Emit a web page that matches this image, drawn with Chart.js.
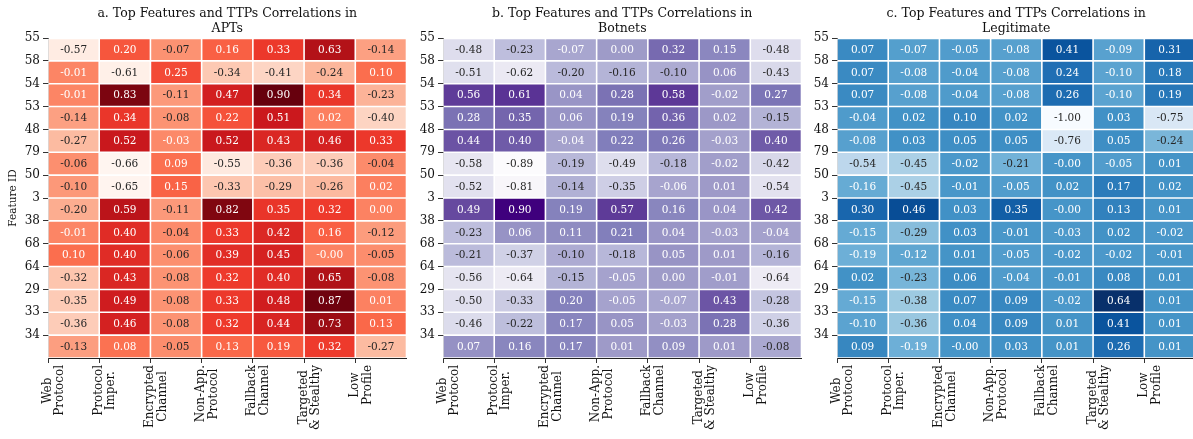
<!DOCTYPE html>
<html>
<head>
<meta charset="utf-8">
<script src="https://cdn.jsdelivr.net/npm/chart.js@4.4.0/dist/chart.umd.min.js"></script>
<style>
  html, body { margin: 0; padding: 0; background: #fff; overflow: hidden; }
  canvas { position: absolute; top: 0; }
</style>
</head>
<body>
<canvas id="chartApt" width="410" height="439" style="left:0px"></canvas>
<canvas id="chartBot" width="410" height="439" style="left:394px"></canvas>
<canvas id="chartLeg" width="410" height="439" style="left:789px"></canvas>
<script>
// rows = feature ids (top to bottom), columns = TTPs
const featureIds = ['55', '58', '54', '53', '48', '79', '50', '3', '38', '68', '64', '29', '33', '34'];
const ttpNames = [
  ['Web', 'Protocol'], ['Protocol', 'Imper.'], ['Encrypted', 'Channel'], ['Non-App.', 'Protocol'],
  ['Fallback', 'Channel'], ['Targeted', '& Stealthy'], ['Low', 'Profile']
];

const aptCorr = [
  [-0.57, 0.20, -0.07, 0.16, 0.33, 0.63, -0.14],
  [-0.01, -0.61, 0.25, -0.34, -0.41, -0.24, 0.10],
  [-0.01, 0.83, -0.11, 0.47, 0.90, 0.34, -0.23],
  [-0.14, 0.34, -0.08, 0.22, 0.51, 0.02, -0.40],
  [-0.27, 0.52, -0.03, 0.52, 0.43, 0.46, 0.33],
  [-0.06, -0.66, 0.09, -0.55, -0.36, -0.36, -0.04],
  [-0.10, -0.65, 0.15, -0.33, -0.29, -0.26, 0.02],
  [-0.20, 0.59, -0.11, 0.82, 0.35, 0.32, 0.00],
  [-0.01, 0.40, -0.04, 0.33, 0.42, 0.16, -0.12],
  [0.10, 0.40, -0.06, 0.39, 0.45, -0.00, -0.05],
  [-0.32, 0.43, -0.08, 0.32, 0.40, 0.65, -0.08],
  [-0.35, 0.49, -0.08, 0.33, 0.48, 0.87, 0.01],
  [-0.36, 0.46, -0.08, 0.32, 0.44, 0.73, 0.13],
  [-0.13, 0.08, -0.05, 0.13, 0.19, 0.32, -0.27]
];

const botnetCorr = [
  [-0.48, -0.23, -0.07, 0.00, 0.32, 0.15, -0.48],
  [-0.51, -0.62, -0.20, -0.16, -0.10, 0.06, -0.43],
  [0.56, 0.61, 0.04, 0.28, 0.58, -0.02, 0.27],
  [0.28, 0.35, 0.06, 0.19, 0.36, 0.02, -0.15],
  [0.44, 0.40, -0.04, 0.22, 0.26, -0.03, 0.40],
  [-0.58, -0.89, -0.19, -0.49, -0.18, -0.02, -0.42],
  [-0.52, -0.81, -0.14, -0.35, -0.06, 0.01, -0.54],
  [0.49, 0.90, 0.19, 0.57, 0.16, 0.04, 0.42],
  [-0.23, 0.06, 0.11, 0.21, 0.04, -0.03, -0.04],
  [-0.21, -0.37, -0.10, -0.18, 0.05, 0.01, -0.16],
  [-0.56, -0.64, -0.15, -0.05, 0.00, -0.01, -0.64],
  [-0.50, -0.33, 0.20, -0.05, -0.07, 0.43, -0.28],
  [-0.46, -0.22, 0.17, 0.05, -0.03, 0.28, -0.36],
  [0.07, 0.16, 0.17, 0.01, 0.09, 0.01, -0.08]
];

const legitCorr = [
  [0.07, -0.07, -0.05, -0.08, 0.41, -0.09, 0.31],
  [0.07, -0.08, -0.04, -0.08, 0.24, -0.10, 0.18],
  [0.07, -0.08, -0.04, -0.08, 0.26, -0.10, 0.19],
  [-0.04, 0.02, 0.10, 0.02, -1.00, 0.03, -0.75],
  [-0.08, 0.03, 0.05, 0.05, -0.76, 0.05, -0.24],
  [-0.54, -0.45, -0.02, -0.21, -0.00, -0.05, 0.01],
  [-0.16, -0.45, -0.01, -0.05, 0.02, 0.17, 0.02],
  [0.30, 0.46, 0.03, 0.35, -0.00, 0.13, 0.01],
  [-0.15, -0.29, 0.03, -0.01, -0.03, 0.02, -0.02],
  [-0.19, -0.12, 0.01, -0.05, -0.02, -0.02, -0.01],
  [0.02, -0.23, 0.06, -0.04, -0.01, 0.08, 0.01],
  [-0.15, -0.38, 0.07, 0.09, -0.02, 0.64, 0.01],
  [-0.10, -0.36, 0.04, 0.09, 0.01, 0.41, 0.01],
  [0.09, -0.19, -0.00, 0.03, 0.01, 0.26, 0.01]
];

// colorbrewer sequential palettes (same as matplotlib Reds / Purples / Blues)
const reds = ['#fff5f0', '#fee0d2', '#fcbba1', '#fc9272', '#fb6a4a', '#ef3b2c', '#cb181d', '#a50f15', '#67000d'];
const purples = ['#fcfbfd', '#efedf5', '#dadaeb', '#bcbddc', '#9e9ac8', '#807dba', '#6a51a3', '#54278f', '#3f007d'];
const blues = ['#f7fbff', '#deebf7', '#c6dbef', '#9ecae1', '#6baed6', '#4292c6', '#2171b5', '#08519c', '#08306b'];

const SERIF = '"DejaVu Serif", "Liberation Serif", serif';
const PLOT_W = 358.5;
const CANVAS_W = 410;

function hexToRgb(h) {
  return [1, 3, 5].map(i => parseInt(h.substr(i, 2), 16));
}

// lookup like a 256 entry colormap
function cmap(stops, t) {
  const idx = Math.min(255, Math.max(0, Math.floor(t * 256)));
  const p = (idx / 255) * (stops.length - 1);
  const i = Math.min(stops.length - 2, Math.floor(p));
  const f = p - i;
  const a = hexToRgb(stops[i]), b = hexToRgb(stops[i + 1]);
  return a.map((c, k) => c + (b[k] - c) * f);
}

function luminance(rgb) {
  const lin = rgb.map(c => {
    c = c / 255;
    return c <= 0.03928 ? c / 12.92 : Math.pow((c + 0.055) / 1.055, 2.4);
  });
  return 0.2126 * lin[0] + 0.7152 * lin[1] + 0.0722 * lin[2];
}

function fmt(v) {
  const neg = v < 0 || Object.is(v, -0);
  return (neg ? '-' : '') + Math.abs(v).toFixed(2);
}

// pad the shorter lines so the rotated label lines look centred
const measureCtx = document.createElement('canvas').getContext('2d');
measureCtx.font = '12px ' + SERIF;
const spaceW = measureCtx.measureText(' ').width;
const hairW = measureCtx.measureText('\u200A').width;
function centerLines(lines) {
  const widths = lines.map(l => measureCtx.measureText(l).width);
  const maxW = Math.max(...widths);
  return lines.map((l, i) => {
    const gap = (maxW - widths[i]) / 2;
    const n = Math.floor(gap / spaceW);
    const m = hairW > 0 ? Math.round((gap - n * spaceW) / hairW) : 0;
    return l + ' '.repeat(n) + '\u200A'.repeat(m);
  });
}
const xTickLabels = ttpNames.map(centerLines);

// write the value in the middle of each cell
const cellText = {
  id: 'cellText',
  afterDatasetsDraw(chart) {
    const ctx = chart.ctx;
    ctx.save();
    ctx.font = '10.5px ' + SERIF;
    ctx.textAlign = 'center';
    ctx.textBaseline = 'middle';
    chart.data.datasets.forEach((ds, i) => {
      chart.getDatasetMeta(i).data.forEach((bar, j) => {
        ctx.fillStyle = ds.textColors[j];
        ctx.fillText(fmt(ds.data[j].v), bar.x, (bar.y + bar.base) / 2 + 0.5);
      });
    });
    ctx.restore();
  }
};

function drawHeatmap(canvasId, titleLines, matrix, stops, yWidth, showYTitle) {
  const flat = matrix.flat();
  const vmin = Math.min(...flat);
  const vmax = Math.max(...flat);

  const datasets = matrix.map((row, r) => {
    const rgbs = row.map(v => cmap(stops, (v - vmin) / (vmax - vmin)));
    return {
      data: row.map((v, c) => ({ x: c + 0.5, y: [r, r + 1], v: v })),
      backgroundColor: rgbs.map(c => 'rgb(' + c.map(Math.round).join(',') + ')'),
      textColors: rgbs.map(c => luminance(c) > 0.402 ? '#262626' : '#ffffff'),
      borderColor: '#ffffff',
      borderWidth: 0.8,
      borderSkipped: false,
      inflateAmount: 0,
      grouped: false,
      barPercentage: 1,
      categoryPercentage: 1
    };
  });

  new Chart(document.getElementById(canvasId), {
    type: 'bar',
    data: { datasets: datasets },
    plugins: [cellText],
    options: {
      responsive: false,
      animation: false,
      layout: { padding: { left: 0, right: CANVAS_W - yWidth - PLOT_W, top: 0, bottom: 0 } },
      plugins: {
        legend: { display: false },
        tooltip: { enabled: false },
        title: {
          display: true,
          fullSize: false,
          text: titleLines,
          color: '#111',
          font: { family: SERIF, size: 12.5, weight: 'normal', lineHeight: 1.15 },
          padding: { top: 6.8, bottom: 2.45 }
        }
      },
      scales: {
        x: {
          type: 'linear',
          min: 0,
          max: 7,
          offset: false,
          afterFit(s) { s.height = 81; s.paddingLeft = 0; s.paddingRight = 0; },
          grid: {
            offset: false,
            drawOnChartArea: false,
            tickLength: 5,
            color: ctx => (ctx.tick && ctx.tick.value === 7) ? 'rgba(0,0,0,0)' : '#333'
          },
          border: { display: true, color: '#222', width: 1 },
          ticks: {
            stepSize: 1,
            autoSkip: false,
            minRotation: 90,
            maxRotation: 90,
            padding: 2,
            labelOffset: -0.5,
            color: '#111',
            font: { family: SERIF, size: 12, lineHeight: 1.05 },
            callback: v => xTickLabels[v] || ''
          }
        },
        y: {
          type: 'linear',
          min: 0,
          max: 14,
          reverse: true,
          afterFit(s) { s.width = yWidth; s.paddingTop = 0; s.paddingBottom = 0; },
          grid: {
            drawOnChartArea: false,
            tickLength: 5,
            color: ctx => (ctx.tick && ctx.tick.value === 14) ? 'rgba(0,0,0,0)' : '#333'
          },
          border: { display: true, color: '#444', width: 1 },
          ticks: {
            stepSize: 1,
            autoSkip: false,
            padding: 3,
            color: '#111',
            font: { family: SERIF, size: 12 },
            callback: v => featureIds[v] || ''
          },
          title: {
            display: showYTitle,
            text: 'Feature ID',
            color: '#111',
            font: { family: SERIF, size: 10.5 },
            padding: { top: 6.7, bottom: 0 }
          }
        }
      }
    }
  });
}

drawHeatmap('chartApt', ['a. Top Features and TTPs Correlations in', 'APTs'], aptCorr, reds, 48, true);
drawHeatmap('chartBot', ['b. Top Features and TTPs Correlations in', 'Botnets'], botnetCorr, purples, 49, false);
drawHeatmap('chartLeg', ['c. Top Features and TTPs Correlations in', 'Legitimate'], legitCorr, blues, 48, false);
</script>
</body>
</html>
